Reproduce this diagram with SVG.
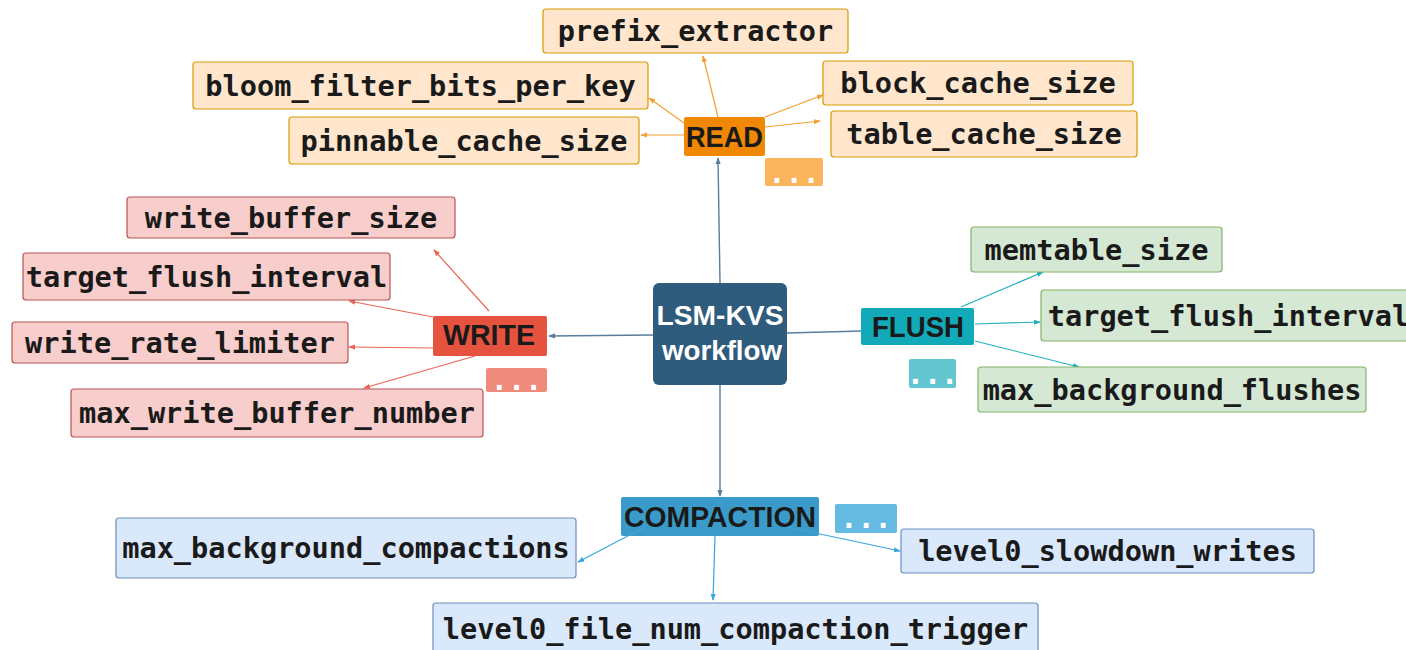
<svg xmlns="http://www.w3.org/2000/svg" width="1406" height="650" viewBox="0 0 1406 650">
<defs>
<style>
.lbl{font-family:"DejaVu Sans Mono","Liberation Mono",monospace;font-weight:bold;font-size:28.6px;fill:#1a1a1a;text-anchor:middle}
.dots{font-family:"DejaVu Sans Mono","Liberation Mono",monospace;font-weight:bold;font-size:28.6px;fill:#ffffff;text-anchor:middle}
.hdr{font-family:"Liberation Sans",Arial,sans-serif;font-weight:bold;font-size:29px;fill:#1a1a1a;text-anchor:middle}
.main{font-family:"Liberation Sans",Arial,sans-serif;font-weight:bold;font-size:28px;fill:#ffffff;text-anchor:middle}
.r{fill:#ffe6cc;stroke:#d79b00;stroke-width:1.2}
.w{fill:#f8cecc;stroke:#b85450;stroke-width:1.2}
.f{fill:#d5e8d4;stroke:#82b366;stroke-width:1.2}
.c{fill:#dae8fc;stroke:#6c8ebf;stroke-width:1.2}
.cr{fill:none;stroke:#f3a033;stroke-width:1.2}
.cw{fill:none;stroke:#ea6555;stroke-width:1.2}
.cf{fill:none;stroke:#22b0c0;stroke-width:1.2}
.cc{fill:none;stroke:#3ba6dc;stroke-width:1.2}
.cm{fill:none;stroke:#5a7d9c;stroke-width:1.4}
</style>
<marker id="ar" viewBox="0 0 8 6" refX="7" refY="3" markerWidth="7" markerHeight="6" markerUnits="userSpaceOnUse" orient="auto"><path d="M0,0 L8,3 L0,6 z" fill="#f3a033"/></marker>
<marker id="aw" viewBox="0 0 8 6" refX="7" refY="3" markerWidth="7" markerHeight="6" markerUnits="userSpaceOnUse" orient="auto"><path d="M0,0 L8,3 L0,6 z" fill="#ea6555"/></marker>
<marker id="af" viewBox="0 0 8 6" refX="7" refY="3" markerWidth="7" markerHeight="6" markerUnits="userSpaceOnUse" orient="auto"><path d="M0,0 L8,3 L0,6 z" fill="#22b0c0"/></marker>
<marker id="ac" viewBox="0 0 8 6" refX="7" refY="3" markerWidth="7" markerHeight="6" markerUnits="userSpaceOnUse" orient="auto"><path d="M0,0 L8,3 L0,6 z" fill="#3ba6dc"/></marker>
<marker id="am" viewBox="0 0 8 6" refX="7" refY="3" markerWidth="7" markerHeight="6" markerUnits="userSpaceOnUse" orient="auto"><path d="M0,0 L8,3 L0,6 z" fill="#5a7d9c"/></marker>
</defs>
<rect width="1406" height="650" fill="#ffffff"/>

<g id="connectors">
<line class="cm" x1="720" y1="283" x2="718" y2="158" marker-end="url(#am)"/>
<line class="cm" x1="653" y1="335" x2="549" y2="336" marker-end="url(#am)"/>
<line class="cm" x1="787" y1="333" x2="862" y2="331"/>
<line class="cm" x1="720" y1="385" x2="720" y2="496" marker-end="url(#am)"/>

<line class="cr" x1="718" y1="117" x2="703" y2="56" marker-end="url(#ar)"/>
<line class="cr" x1="684" y1="123" x2="649" y2="98" marker-end="url(#ar)"/>
<line class="cr" x1="684" y1="135" x2="641" y2="135" marker-end="url(#ar)"/>
<line class="cr" x1="765" y1="117" x2="823" y2="95" marker-end="url(#ar)"/>
<line class="cr" x1="765" y1="127" x2="820" y2="121" marker-end="url(#ar)"/>

<line class="cw" x1="489" y1="311" x2="434" y2="250" marker-end="url(#aw)"/>
<line class="cw" x1="433" y1="317" x2="349" y2="301" marker-end="url(#aw)"/>
<line class="cw" x1="433" y1="348" x2="349" y2="347" marker-end="url(#aw)"/>
<line class="cw" x1="475" y1="356" x2="364" y2="388" marker-end="url(#aw)"/>

<line class="cf" x1="961" y1="307" x2="1043" y2="272" marker-end="url(#af)"/>
<line class="cf" x1="975" y1="324" x2="1040" y2="322" marker-end="url(#af)"/>
<line class="cf" x1="975" y1="341" x2="1079" y2="367" marker-end="url(#af)"/>
</g>

<g id="main"><rect x="653" y="283" width="134" height="102" rx="6" fill="#2f5b7c"/><text class="main" x="720" y="325" textLength="127" lengthAdjust="spacingAndGlyphs">LSM-KVS</text><text class="main" x="722" y="360" textLength="120" lengthAdjust="spacingAndGlyphs">workflow</text></g>

<g id="read"><rect x="684" y="117" width="81" height="39" rx="2" fill="#f08705"/><text class="hdr" x="724.5" y="147" textLength="77" lengthAdjust="spacingAndGlyphs">READ</text></g>
<g id="read-more"><rect x="765" y="158" width="58" height="28" rx="2" fill="#f9b45c"/><text class="dots" x="794" y="183">...</text></g>
<g id="prefix_extractor"><rect class="r" x="543" y="9" width="305" height="44" rx="3"/><text class="lbl" x="695.5" y="41">prefix_extractor</text></g>
<g id="bloom_filter_bits_per_key"><rect class="r" x="193" y="62" width="455" height="47" rx="3"/><text class="lbl" x="420.5" y="95.5">bloom_filter_bits_per_key</text></g>
<g id="pinnable_cache_size"><rect class="r" x="289" y="117" width="350" height="47" rx="3"/><text class="lbl" x="464" y="150.5">pinnable_cache_size</text></g>
<g id="block_cache_size"><rect class="r" x="823" y="61" width="310" height="44" rx="3"/><text class="lbl" x="978" y="93">block_cache_size</text></g>
<g id="table_cache_size"><rect class="r" x="831" y="111" width="306" height="46" rx="3"/><text class="lbl" x="984" y="144">table_cache_size</text></g>

<g id="write"><rect x="433" y="316" width="114" height="40" rx="2" fill="#e5533f"/><text class="hdr" x="489" y="345" textLength="92" lengthAdjust="spacingAndGlyphs">WRITE</text></g>
<g id="write-more"><rect x="486" y="368" width="61" height="24" rx="2" fill="#ef8b7d"/><text class="dots" x="516.5" y="390">...</text></g>
<g id="write_buffer_size"><rect class="w" x="127" y="197" width="328" height="41" rx="3"/><text class="lbl" x="291" y="227.5">write_buffer_size</text></g>
<g id="target_flush_interval_w"><rect class="w" x="23" y="253" width="367" height="47" rx="3"/><text class="lbl" x="206.5" y="286.5">target_flush_interval</text></g>
<g id="write_rate_limiter"><rect class="w" x="12" y="322" width="336" height="41" rx="3"/><text class="lbl" x="180" y="352.5">write_rate_limiter</text></g>
<g id="max_write_buffer_number"><rect class="w" x="71" y="389" width="412" height="48" rx="3"/><text class="lbl" x="277" y="423">max_write_buffer_number</text></g>

<g id="flush"><rect x="861" y="308" width="113" height="37" rx="2" fill="#12a9b8"/><text class="hdr" x="918" y="337" textLength="92" lengthAdjust="spacingAndGlyphs">FLUSH</text></g>
<g id="flush-more"><rect x="909" y="359" width="47" height="29" rx="2" fill="#63c5d0"/><text class="dots" x="932.5" y="384">...</text></g>
<g id="memtable_size"><rect class="f" x="971" y="227" width="251" height="45" rx="3"/><text class="lbl" x="1096.5" y="259.5">memtable_size</text></g>
<g id="target_flush_interval_f"><rect class="f" x="1041" y="290" width="375" height="51" rx="3"/><text class="lbl" x="1228.5" y="325.5">target_flush_interval</text></g>
<g id="max_background_flushes"><rect class="f" x="978" y="367" width="388" height="45" rx="3"/><text class="lbl" x="1172" y="399.5">max_background_flushes</text></g>

<g id="compaction"><rect x="621" y="497" width="198" height="39" rx="2" fill="#3a9bcb"/><text class="hdr" x="720" y="526.5" textLength="192" lengthAdjust="spacingAndGlyphs">COMPACTION</text></g>
<g id="compaction-more"><rect x="835" y="504" width="62" height="29" rx="2" fill="#64bae0"/><text class="dots" x="866" y="528">...</text></g>
<g id="max_background_compactions"><rect class="c" x="116" y="518" width="460" height="60" rx="3"/><text class="lbl" x="346" y="558">max_background_compactions</text></g>
<g id="level0_slowdown_writes"><rect class="c" x="901" y="529" width="413" height="44" rx="3"/><text class="lbl" x="1107.5" y="561">level0_slowdown_writes</text></g>
<g id="level0_file_num_compaction_trigger"><rect class="c" x="433" y="603" width="605" height="60" rx="3"/><text class="lbl" x="735.5" y="639">level0_file_num_compaction_trigger</text></g>

<g id="connectors-compaction">
<line class="cc" x1="645" y1="527" x2="578" y2="562" marker-end="url(#ac)"/>
<line class="cc" x1="787" y1="527" x2="900" y2="551" marker-end="url(#ac)"/>
<line class="cc" x1="715" y1="536" x2="713" y2="600" marker-end="url(#ac)"/>
</g>
</svg>
